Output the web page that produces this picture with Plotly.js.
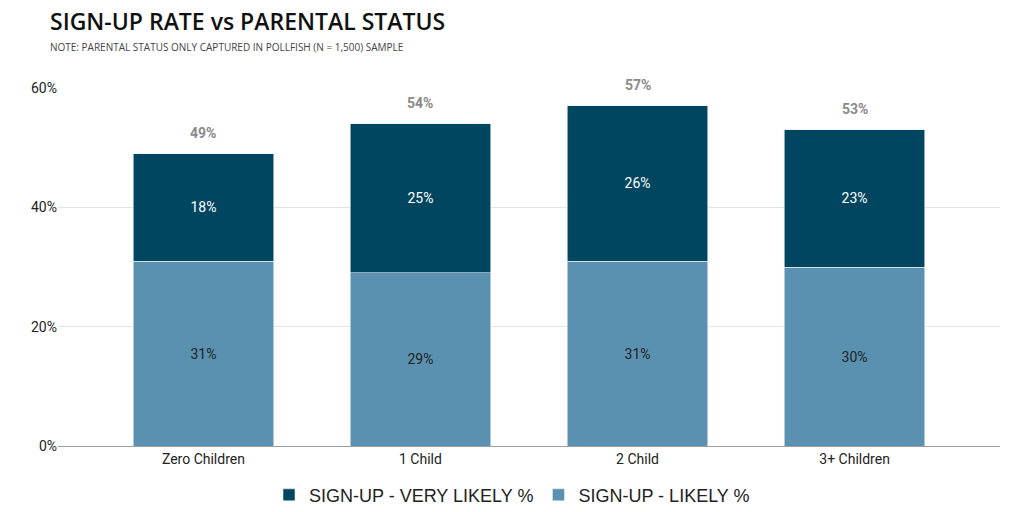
<!DOCTYPE html>
<html><head><meta charset="utf-8">
<script src="https://cdn.plot.ly/plotly-3.0.1.min.js"></script>
<style>html,body{margin:0;padding:0;background:#fff;}#chart{width:1024px;height:512px;}</style>
</head><body><div id="chart"></div>
<script>
const categories = ["Zero Children", "1 Child", "2 Child", "3+ Children"];
const likely = [31, 29, 31, 30];
const veryLikely = [18, 25, 26, 23];
const totals = [49, 54, 57, 53];
const yTicks = [0, 20, 40, 60];
const yTickLabels = ["0%", "20%", "40%", "60%"];

const traces = [
  {
    type: "bar", name: "SIGN-UP - LIKELY %", x: categories, y: likely,
    marker: {color: "#5a91b0", line: {color: "#e8eff3", width: 0.6}},
    text: likely.map(v => v + "%"), textposition: "inside", insidetextanchor: "middle",
    textangle: 0, constraintext: "none",
    textfont: {family: "Roboto, sans-serif", size: 14, color: "#1f1f1f"},
    hoverinfo: "none", width: 0.647
  },
  {
    type: "bar", name: "SIGN-UP - VERY LIKELY %", x: categories, y: veryLikely,
    marker: {color: "#014661", line: {color: "#e8eff3", width: 0.6}},
    text: veryLikely.map(v => v + "%"), textposition: "inside", insidetextanchor: "middle",
    textangle: 0, constraintext: "none",
    textfont: {family: "Roboto, sans-serif", size: 14, color: "#ffffff"},
    hoverinfo: "none", width: 0.647
  }
];

const annotations = categories.map((c, i) => ({
  x: c, y: totals[i], xref: "x", yref: "y", text: "<b>" + totals[i] + "%</b>",
  showarrow: false, yanchor: "bottom", yshift: 11,
  font: {family: "Roboto, sans-serif", size: 14, color: "#8a8a8a"}
}));
annotations.push({
  xref: "paper", yref: "paper", x: -10/942, y: 1, yshift: 67, xanchor: "left", yanchor: "middle",
  text: "SIGN-UP RATE vs PARENTAL STATUS", showarrow: false,
  font: {family: "Open Sans, sans-serif", size: 23, color: "#111", weight: 600}
});
annotations.push({
  xref: "paper", yref: "paper", x: -10/942, y: 1, yshift: 41, xanchor: "left", yanchor: "middle",
  text: "NOTE: PARENTAL STATUS ONLY CAPTURED IN POLLFISH (N = 1,500) SAMPLE", showarrow: false,
  font: {family: "Open Sans, sans-serif", size: 10, color: "#444", weight: 500}
});

const layout = {
  width: 1024, height: 512,
  margin: {l: 58, r: 24, t: 88, b: 66},
  paper_bgcolor: "#fff", plot_bgcolor: "#fff",
  barmode: "stack",
  showlegend: true,
  legend: {orientation: "h", x: 0.5, xanchor: "center", xref: "container",
    y: 0.033, yanchor: "middle", yref: "container",
    traceorder: "reversed", itemwidth: 30,
    font: {family: "Liberation Sans, Arial, sans-serif", size: 18, color: "#222"}},
  xaxis: {type: "category", range: [-0.67, 3.67], showgrid: false, zeroline: false,
    showline: true, linecolor: "#9e9e9e", linewidth: 1.2, ticks: "",
    tickfont: {family: "Roboto, sans-serif", size: 14, color: "#222"}, fixedrange: true},
  yaxis: {range: [0, 60], tickvals: yTicks, ticktext: yTickLabels, showgrid: true,
    gridcolor: "#e5e5e5", gridwidth: 1, zeroline: false, showline: false, ticks: "",
    ticklen: 0, tickfont: {family: "Roboto, sans-serif", size: 14, color: "#222"}, fixedrange: true},
  annotations: annotations,
  uniformtext: {mode: false}
};

Plotly.newPlot("chart", traces, layout, {displayModeBar: false, staticPlot: true});
</script></body></html>
